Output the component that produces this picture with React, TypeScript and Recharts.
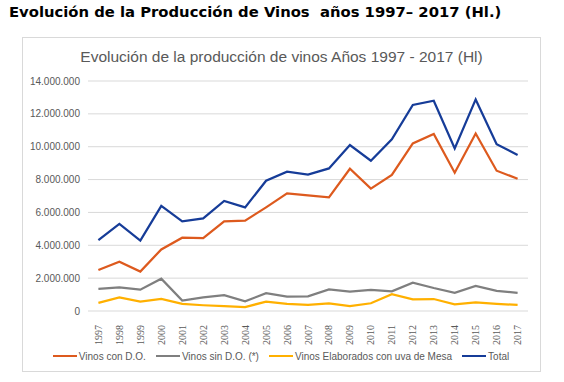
import React from "react";
import { LineChart, Line, XAxis, YAxis, CartesianGrid, Legend } from "recharts";

const years = ["1997","1998","1999","2000","2001","2002","2003","2004","2005","2006","2007","2008","2009","2010","2011","2012","2013","2014","2015","2016","2017"];
const conDO = [2500000,3000000,2400000,3750000,4460000,4440000,5460000,5500000,6310000,7160000,7040000,6920000,8660000,7450000,8280000,10200000,10770000,8420000,10800000,8540000,8050000];
const sinDO = [1340000,1440000,1300000,1970000,630000,830000,970000,590000,1080000,870000,890000,1320000,1180000,1280000,1200000,1720000,1400000,1110000,1520000,1220000,1110000];
const uvaMesa = [500000,830000,570000,730000,430000,350000,290000,240000,570000,430000,370000,470000,300000,470000,1020000,710000,730000,410000,530000,440000,370000];
const total = [4320000,5300000,4280000,6400000,5460000,5640000,6700000,6310000,7930000,8480000,8300000,8680000,10100000,9150000,10450000,12540000,12800000,9900000,12880000,10150000,9500000];
const yTicks = [0,2000000,4000000,6000000,8000000,10000000,12000000,14000000];

const seriesNames = ["Vinos con D.O.", "Vinos sin D.O. (*)", "Vinos Elaborados con uva de Mesa", "Total"];
const colors = ["#DD5A1E", "#7F7F7F", "#FFB000", "#163C98"];

const data = years.map((y, i) => ({
  year: y,
  conDO: conDO[i],
  sinDO: sinDO[i],
  uvaMesa: uvaMesa[i],
  total: total[i],
}));

const fmt = (v: number) => v.toLocaleString("de-DE");

const XTick = (props: any) => {
  const { x, y, payload } = props;
  return (
    <text
      transform={`translate(${x + 3.5},${y + 6}) rotate(-90)`}
      textAnchor="end"
      fontFamily="'Liberation Serif', serif"
      fontSize={10}
      fill="#595959"
    >
      {payload.value}
    </text>
  );
};

const LegendContent = () => (
  <div style={{ display: "flex", justifyContent: "center", alignItems: "center", fontFamily: "'Liberation Sans', Arial, sans-serif", fontSize: 10, color: "#595959", height: 24, paddingLeft: 12 }}>
    {seriesNames.map((n, i) => (
      <div key={n} style={{ display: "flex", alignItems: "center", marginRight: i < 3 ? 10 : 0 }}>
        <span style={{ display: "inline-block", width: 24, height: 2.5, background: colors[i], marginRight: 2 }} />
        <span>{n}</span>
      </div>
    ))}
  </div>
);

export default function App() {
  return (
    <div style={{ position: "absolute", left: 0, top: 0, width: 564, height: 382, background: "#fff", overflow: "hidden" }}>
      <div style={{ position: "absolute", left: 9, top: 3, fontFamily: "'DejaVu Sans', Verdana, sans-serif", fontWeight: "bold", fontSize: 14.8, color: "#000", whiteSpace: "nowrap" }}>
        Evolución de la Producción de Vinos&nbsp; años 1997– 2017 (Hl.)
      </div>
      <div style={{ position: "absolute", left: 22, top: 37, width: 519, height: 335, border: "1px solid #D9D9D9", boxSizing: "border-box" }} />
      <div style={{ position: "absolute", left: 22, top: 48, width: 519, textAlign: "center", fontFamily: "'Liberation Sans', Arial, sans-serif", fontSize: 15.5, color: "#595959", whiteSpace: "nowrap" }}>
        Evolución de la producción de vinos Años 1997 - 2017 (Hl)
      </div>
      <div style={{ position: "absolute", left: 22, top: 37 }}>
        <LineChart width={519} height={335} data={data} margin={{ top: 44, right: 13, left: 0, bottom: 4 }}>
          <CartesianGrid vertical={false} stroke="#D9D9D9" strokeWidth={1} />
          <XAxis
            dataKey="year"
            interval={0}
            axisLine={false}
            tickLine={false}
            tick={<XTick />}
            height={33}
            padding={{ left: 10.4, right: 10.4 }}
          />
          <YAxis
            domain={[0, 14000000]}
            ticks={yTicks}
            tickFormatter={fmt}
            axisLine={false}
            tickLine={false}
            width={66}
            tick={{ fontFamily: "'Liberation Sans', Arial, sans-serif", fontSize: 10, fill: "#595959" }}
          />
          <Legend verticalAlign="bottom" height={24} content={<LegendContent />} />
          <Line type="linear" dataKey="conDO" name={seriesNames[0]} stroke={colors[0]} strokeWidth={2.25} dot={false} isAnimationActive={false} />
          <Line type="linear" dataKey="sinDO" name={seriesNames[1]} stroke={colors[1]} strokeWidth={2.25} dot={false} isAnimationActive={false} />
          <Line type="linear" dataKey="uvaMesa" name={seriesNames[2]} stroke={colors[2]} strokeWidth={2.25} dot={false} isAnimationActive={false} />
          <Line type="linear" dataKey="total" name={seriesNames[3]} stroke={colors[3]} strokeWidth={2.25} dot={false} isAnimationActive={false} />
        </LineChart>
      </div>
    </div>
  );
}
